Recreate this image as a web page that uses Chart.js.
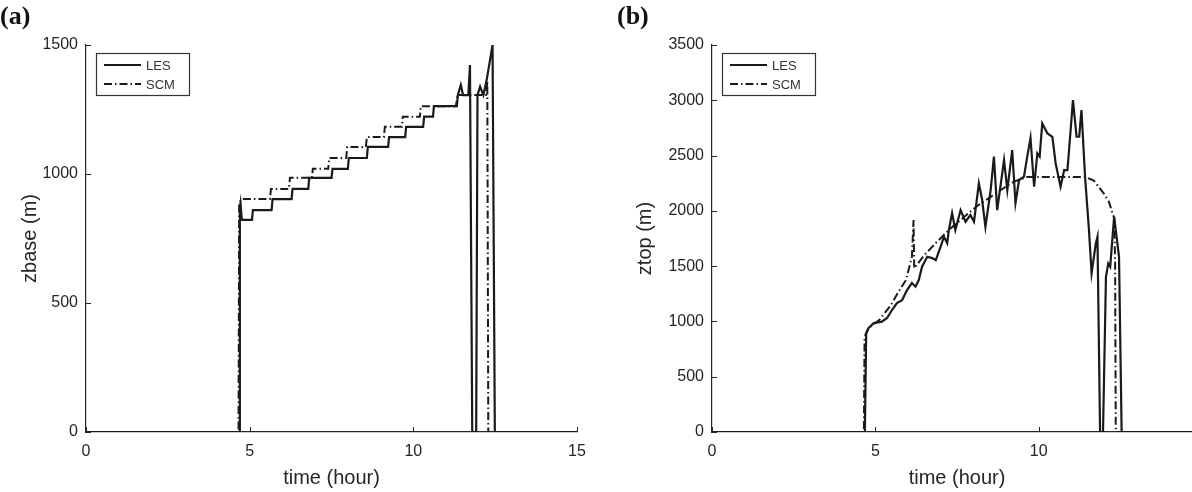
<!DOCTYPE html>
<html>
<head>
<meta charset="utf-8">
<script src="https://cdn.jsdelivr.net/npm/chart.js@4.4.0/dist/chart.umd.min.js"></script>
<style>
  html, body { margin: 0; padding: 0; background: #fff; overflow: hidden; width: 1192px; height: 492px; }
  .panel { position: absolute; top: 0; height: 492px; }
  .tag { position: absolute; top: 1px; font: bold 26px "Liberation Serif", serif; color: #111; }
</style>
</head>
<body>
<div class="panel" style="left:0;width:600px"><canvas id="chartA" width="600" height="492"></canvas></div>
<div class="panel" style="left:600px;width:620px"><canvas id="chartB" width="620" height="492"></canvas></div>
<div class="tag" style="left:0">(a)</div>
<div class="tag" style="left:617px">(b)</div>
<script>
// tick labels
const timeTicks = [0, 5, 10, 15];
const zbaseTicks = [0, 500, 1000, 1500];
const ztopTicks = [0, 500, 1000, 1500, 2000, 2500, 3000, 3500];

// (a) cloud base height, [time (hour), zbase (m)]
const lesBase = [
  [0, 0], [4.68, 0], [4.70, 870], [4.72, 887], [4.76, 822], [5.07, 822], [5.10, 860], [5.67, 860],
  [5.70, 903], [6.28, 903], [6.31, 942], [6.79, 942], [6.82, 985], [7.50, 985], [7.53, 1020], [8.00, 1020],
  [8.03, 1062], [8.58, 1062], [8.61, 1105], [9.23, 1105], [9.26, 1143], [9.75, 1143], [9.78, 1183], [10.30, 1183],
  [10.33, 1222], [10.60, 1222], [10.63, 1263], [11.33, 1263], [11.36, 1306], [11.45, 1345], [11.52, 1306], [11.68, 1306],
  [11.73, 1422], [11.80, 0], [11.92, 0], [11.96, 1306], [12.04, 1339], [12.14, 1306], [12.24, 1364], [12.42, 1500],
  [12.49, 0], [15, 0]
];
const scmBase = [
  [0, 0], [4.66, 0], [4.68, 886], [4.75, 903], [5.62, 903], [5.65, 942], [6.20, 942], [6.23, 985],
  [6.90, 985], [6.93, 1020], [7.40, 1020], [7.43, 1062], [7.95, 1062], [7.98, 1105], [8.55, 1105], [8.58, 1143],
  [9.10, 1143], [9.13, 1183], [9.65, 1183], [9.68, 1222], [10.20, 1222], [10.23, 1263], [11.30, 1263], [11.35, 1306],
  [12.22, 1306], [12.26, 1360], [12.29, 0], [15, 0]
];

// (b) cloud top height, [time (hour), ztop (m)]
const lesTop = [
  [0, 0], [4.68, 0], [4.70, 450], [4.72, 895], [4.79, 940], [4.95, 985], [5.20, 998], [5.36, 1031],
  [5.51, 1103], [5.66, 1166], [5.82, 1193], [5.97, 1284], [6.12, 1347], [6.23, 1314], [6.33, 1374], [6.43, 1495],
  [6.59, 1585], [6.74, 1573], [6.85, 1555], [7.00, 1676], [7.10, 1766], [7.20, 1709], [7.25, 1826], [7.35, 1980],
  [7.45, 1826], [7.61, 2007], [7.76, 1902], [7.91, 1962], [8.02, 1902], [8.17, 2249], [8.27, 2098], [8.37, 1856],
  [8.53, 2188], [8.63, 2490], [8.73, 2007], [8.94, 2460], [9.04, 2188], [9.19, 2550], [9.29, 2070], [9.40, 2279],
  [9.55, 2309], [9.65, 2490], [9.75, 2659], [9.86, 2218], [9.96, 2520], [10.03, 2490], [10.11, 2791], [10.27, 2700],
  [10.42, 2670], [10.52, 2429], [10.67, 2218], [10.78, 2369], [10.88, 2369], [10.93, 2550], [11.05, 3002], [11.16, 2670],
  [11.24, 2670], [11.31, 2912], [11.42, 2309], [11.54, 1826], [11.62, 1435], [11.75, 1706], [11.80, 1766], [11.88, 0],
  [11.97, 0], [12.06, 1404], [12.13, 1525], [12.19, 1495], [12.31, 1947], [12.46, 1585], [12.54, 0], [15, 0]
];
const scmTop = [
  [0, 0], [4.65, 0], [4.67, 862], [4.80, 940], [5.12, 1013], [5.48, 1149], [5.71, 1269], [5.94, 1375],
  [6.12, 1586], [6.17, 1917], [6.19, 1480], [6.50, 1600], [6.89, 1721], [7.30, 1840], [7.70, 1940], [8.10, 2040],
  [8.50, 2120], [8.90, 2200], [9.24, 2264], [9.64, 2306], [11.43, 2306], [11.69, 2273], [11.99, 2159], [12.15, 2083],
  [12.26, 1978], [12.31, 1935], [12.34, 1550], [12.36, 0], [15, 0]
];

const ink = '#1a1a1a';
const axisGray = '#262626';
const sansFont = '"Liberation Sans", Arial, sans-serif';

// matlab-style ticks pointing into the plot area
const inwardTicks = {
  id: 'inwardTicks',
  afterDatasetsDraw(chart) {
    const ctx = chart.ctx;
    const { x, y } = chart.scales;
    ctx.save();
    ctx.strokeStyle = axisGray;
    ctx.lineWidth = 1;
    x.ticks.forEach(t => {
      const px = Math.round(x.getPixelForValue(t.value)) + 0.5;
      ctx.beginPath(); ctx.moveTo(px, y.bottom); ctx.lineTo(px, y.bottom - 5); ctx.stroke();
    });
    y.ticks.forEach(t => {
      const py = Math.round(y.getPixelForValue(t.value)) + 0.5;
      ctx.beginPath(); ctx.moveTo(x.left, py); ctx.lineTo(x.left + 5, py); ctx.stroke();
    });
    ctx.restore();
  }
};

// boxed legend in the upper-left corner
const boxLegend = {
  id: 'boxLegend',
  afterDraw(chart) {
    const ctx = chart.ctx;
    const area = chart.chartArea;
    const bx = area.left + 10, by = area.top + 8, bw = 93, bh = 42;
    ctx.save();
    ctx.fillStyle = '#fff';
    ctx.fillRect(bx, by, bw, bh);
    ctx.strokeStyle = '#333';
    ctx.lineWidth = 1.2;
    ctx.strokeRect(bx + 0.5, by + 0.5, bw, bh);
    ctx.font = '13px ' + sansFont;
    ctx.textBaseline = 'middle';
    chart.data.datasets.forEach((ds, i) => {
      const ly = by + 12 + i * 19;
      ctx.strokeStyle = ds.borderColor;
      ctx.lineWidth = ds.borderWidth;
      ctx.setLineDash(ds.borderDash || []);
      ctx.beginPath(); ctx.moveTo(bx + 8, ly); ctx.lineTo(bx + 45, ly); ctx.stroke();
      ctx.setLineDash([]);
      ctx.fillStyle = '#333';
      ctx.fillText(ds.label, bx + 50, ly + 1);
    });
    ctx.restore();
  }
};

function makeChart(id, les, scm, yTicks, yMax, yTitle, yWidth, yTitlePad, padRight) {
  return new Chart(document.getElementById(id), {
    type: 'line',
    data: {
      datasets: [
        { label: 'LES', data: les.map(p => ({ x: p[0], y: p[1] })), borderColor: ink, borderWidth: 2.2 },
        { label: 'SCM', data: scm.map(p => ({ x: p[0], y: p[1] })), borderColor: ink, borderWidth: 2, borderDash: [8, 3, 1.5, 3] }
      ]
    },
    options: {
      responsive: false,
      animation: false,
      layout: { padding: { left: 0, top: 45, right: padRight, bottom: 0 } },
      elements: { point: { radius: 0 }, line: { tension: 0 } },
      plugins: { legend: { display: false }, tooltip: { enabled: false } },
      scales: {
        x: {
          type: 'linear', min: 0, max: 15,
          afterBuildTicks: s => { s.ticks = timeTicks.map(v => ({ value: v })); },
          afterFit: s => { s.height = 60; },
          grid: { display: false },
          border: { display: true, color: axisGray, width: 1.2 },
          ticks: { color: axisGray, padding: 2, maxRotation: 0, callback: v => String(v), font: { family: sansFont, size: 16 } },
          title: { display: true, text: 'time (hour)', color: axisGray, padding: { top: 0, bottom: 2 }, font: { family: sansFont, size: 20 } }
        },
        y: {
          type: 'linear', min: 0, max: yMax,
          afterBuildTicks: s => { s.ticks = yTicks.map(v => ({ value: v })); },
          afterFit: s => { s.width = yWidth; },
          grid: { display: false },
          border: { display: true, color: axisGray, width: 1.2 },
          ticks: { color: axisGray, padding: 0, callback: v => String(v), font: { family: sansFont, size: 16 } },
          title: { display: true, text: yTitle, color: axisGray, padding: { top: yTitlePad, bottom: 0 }, font: { family: sansFont, size: 20 } }
        }
      }
    },
    plugins: [inwardTicks, boxLegend]
  });
}

makeChart('chartA', lesBase, scmBase, zbaseTicks, 1500, 'zbase (m)', 86, 18, 23);
makeChart('chartB', lesTop, scmTop, ztopTicks, 3500, 'ztop (m)', 112, 33, 18);
</script>
</body>
</html>
